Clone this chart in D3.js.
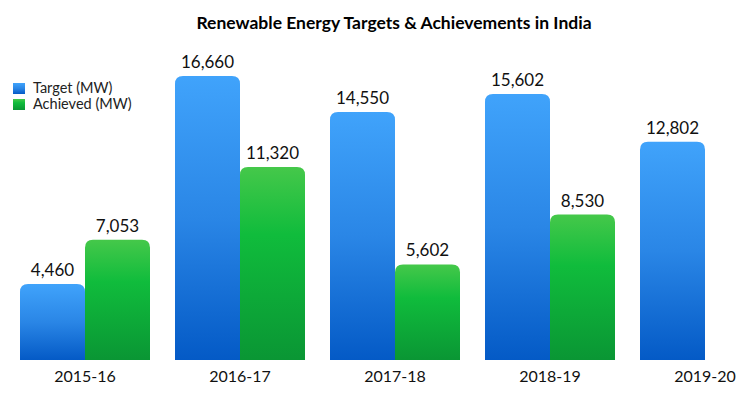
<!DOCTYPE html>
<html lang="en">
<head>
<meta charset="UTF-8">
<title>Renewable Energy Targets &amp; Achievements in India</title>
<style>
* { margin: 0; padding: 0; }
body { background: #fff; width: 750px; height: 399px; overflow: hidden; font-family: Lato, "Open Sans", sans-serif; }
svg { display: block; }
.title { font-size: 17.5px; font-weight: 700; fill: #000; }
.val { font-size: 17px; fill: #111; text-anchor: middle; }
.cat { font-size: 16px; fill: #111; text-anchor: middle; }
.leg { font-size: 14.5px; fill: #222; }
</style>
</head>
<body>
<div id="chart"></div>
<script src="https://cdn.jsdelivr.net/npm/d3@7/dist/d3.min.js"></script>
<script>
// Data
var years = ["2015-16", "2016-17", "2017-18", "2018-19", "2019-20"];
var target = [4460, 16660, 14550, 15602, 12802];
var achieved = [7053, 11320, 5602, 8530, null];
var seriesNames = ["Target (MW)", "Achieved (MW)"];

var width = 750, height = 399;
var baseY = 360, topY = 19;

var svg = d3.select("#chart").append("svg")
	.attr("width", width)
	.attr("height", height);

// vertical gradients, lighter at the top of each bar
var defs = svg.append("defs");
function gradient(id, stops) {
	var lg = defs.append("linearGradient")
		.attr("id", id)
		.attr("x1", 0).attr("y1", 0).attr("x2", 0).attr("y2", 1);
	stops.forEach(function(s) {
		lg.append("stop").attr("offset", s[0]).attr("stop-color", s[1]);
	});
}
gradient("gBlue", [[0, "#40a3fb"], [0.5, "#2a86e6"], [1, "#045ac6"]]);
gradient("gGreen", [[0, "#45c84a"], [0.35, "#10bc3c"], [1, "#0a9634"]]);

var x0 = d3.scaleBand().domain(years).range([7.5, 782.5]).paddingInner(25 / 155).paddingOuter(25 / 310);
var x1 = d3.scaleBand().domain(seriesNames).range([0, x0.bandwidth()]);
var y = d3.scaleLinear().domain([0, 20000]).range([baseY, topY]);

// bar with rounded top corners only
function barPath(x, yTop, w, r) {
	var h = baseY - yTop;
	r = Math.min(r, h, w / 2);
	return "M" + x + "," + baseY +
		"V" + (yTop + r) +
		"Q" + x + "," + yTop + " " + (x + r) + "," + yTop +
		"H" + (x + w - r) +
		"Q" + (x + w) + "," + yTop + " " + (x + w) + "," + (yTop + r) +
		"V" + baseY + "Z";
}

var rows = [];
years.forEach(function(yr, i) {
	rows.push({ year: yr, series: seriesNames[0], value: target[i], fill: "url(#gBlue)" });
	if (achieved[i] != null) rows.push({ year: yr, series: seriesNames[1], value: achieved[i], fill: "url(#gGreen)" });
});

var plot = svg.append("g");

plot.selectAll("path.bar").data(rows).join("path")
	.attr("class", "bar")
	.attr("fill", function(d) { return d.fill; })
	.attr("d", function(d) {
		return barPath(x0(d.year) + x1(d.series), y(d.value), x1.bandwidth(), 8);
	});

plot.selectAll("text.val").data(rows).join("text")
	.attr("class", "val")
	.attr("x", function(d) { return x0(d.year) + x1(d.series) + x1.bandwidth() / 2; })
	.attr("y", function(d) { return y(d.value) - 8; })
	.text(function(d) { return d3.format(",")(d.value); });

// category labels under each group
plot.selectAll("text.cat").data(years).join("text")
	.attr("class", "cat")
	.attr("x", function(d) { return x0(d) + x0.bandwidth() / 2; })
	.attr("y", 382)
	.text(function(d) { return d; });

svg.append("text")
	.attr("class", "title")
	.attr("x", 394)
	.attr("y", 29)
	.attr("text-anchor", "middle")
	.text("Renewable Energy Targets & Achievements in India");

// legend
var legend = svg.append("g").attr("transform", "translate(13,83)");
var legendFills = ["url(#gBlue)", "url(#gGreen)"];
var items = legend.selectAll("g").data(seriesNames).join("g")
	.attr("transform", function(d, i) { return "translate(0," + (i * 16) + ")"; });
items.append("rect")
	.attr("width", 12).attr("height", 11)
	.attr("fill", function(d, i) { return legendFills[i]; });
items.append("text")
	.attr("class", "leg")
	.attr("x", 20)
	.attr("y", 10)
	.text(function(d) { return d; });
</script>
</body>
</html>
